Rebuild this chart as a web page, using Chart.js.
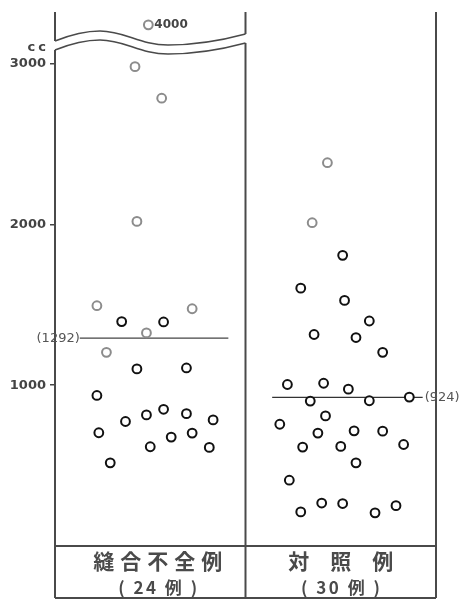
<!DOCTYPE html>
<html>
<head>
<meta charset="utf-8">
<script src="https://cdn.jsdelivr.net/npm/chart.js@4"></script>
<style>
  html, body { margin: 0; padding: 0; background: #fff; }
</style>
</head>
<body>
<canvas id="myChart" width="466" height="600"></canvas>
<script>
// groups and their case counts
const groups = ['縫合不全例', '対　照　例'];
const groupCounts = ['( 24 例 )', '( 30 例 )'];
const yTicks = [1000, 2000, 3000];
const yUnit = 'cc';

// 縫合不全例: values (cc) and spread across the column (0..1)
const leakValues = [4000, 2980, 2784, 2018, 1494, 1475, 1395, 1393, 1325, 1204, 1101, 1107,
  936, 774, 815, 850, 823, 784, 704, 617, 677, 702, 613, 517];
const leakSpread = [0.49, 0.42, 0.56, 0.43, 0.22, 0.72, 0.35, 0.57, 0.48, 0.27, 0.43, 0.69,
  0.22, 0.37, 0.48, 0.57, 0.69, 0.83, 0.23, 0.50, 0.61, 0.72, 0.81, 0.29];
const leakMean = 1292;

// 対照例: values (cc) and spread across the column (1..2)
const controlValues = [2383, 2010, 1807, 1603, 1527, 1399, 1315, 1296, 1204, 1004, 1012, 975,
  901, 903, 926, 809, 757, 702, 716, 714, 615, 619, 631, 517, 409, 212, 267, 264, 206, 251];
const controlSpread = [1.43, 1.35, 1.51, 1.29, 1.52, 1.65, 1.36, 1.58, 1.72, 1.22, 1.41, 1.54,
  1.34, 1.65, 1.86, 1.42, 1.18, 1.38, 1.57, 1.72, 1.30, 1.50, 1.83, 1.58, 1.23, 1.29, 1.40, 1.51, 1.68, 1.79];
const controlMean = 924;

// points that print lighter in the original
const faintLeak = [0, 1, 2, 3, 4, 5, 8, 9];
const faintControl = [0, 1];

const yMax = 3320;
const breakShown = 3240; // values above the cut are drawn here

const ctx = document.getElementById('myChart');

const toPoints = (vals, xs) => vals.map((v, i) => ({ x: xs[i], y: v > yMax ? breakShown : v, real: v }));
const colours = (vals, faint) => vals.map((v, i) => faint.includes(i) ? '#8c8c8c' : '#111');

const framePlugin = {
  id: 'frame',
  beforeDatasetsDraw(chart) {
    const { ctx, chartArea: a, scales: { x, y } } = chart;
    const L = a.left, M = x.getPixelForValue(1), R = a.right, T = a.top;
    const bottom = chart.height - 2;
    ctx.save();
    ctx.strokeStyle = '#4a4a4a';
    ctx.lineWidth = 2;
    ctx.beginPath();
    ctx.moveTo(L, T); ctx.lineTo(L, T + 29);
    ctx.moveTo(L, T + 38); ctx.lineTo(L, bottom);
    ctx.moveTo(M, T); ctx.lineTo(M, T + 22);
    ctx.moveTo(M, T + 31); ctx.lineTo(M, bottom);
    ctx.moveTo(R, T); ctx.lineTo(R, bottom);
    ctx.moveTo(L, a.bottom); ctx.lineTo(R, a.bottom);
    ctx.moveTo(L, bottom); ctx.lineTo(R, bottom);
    ctx.stroke();

    // broken-axis wave
    const wave = (dy) => {
      ctx.beginPath();
      ctx.moveTo(L, T + 29 + dy);
      ctx.bezierCurveTo(L + 15, T + 23 + dy, L + 30, T + 19 + dy, L + 45, T + 19 + dy);
      ctx.bezierCurveTo(L + 70, T + 19 + dy, L + 85, T + 33 + dy, L + 113, T + 33 + dy);
      ctx.bezierCurveTo(L + 145, T + 33 + dy, L + 172, T + 27 + dy, M, T + 22 + dy);
      ctx.stroke();
    };
    ctx.lineWidth = 1.6;
    wave(0);
    wave(9);

    ctx.fillStyle = '#444';
    ctx.textBaseline = 'middle';
    ctx.font = 'bold 13px "DejaVu Sans"';
    ctx.letterSpacing = '3px';
    ctx.textAlign = 'right';
    ctx.fillText(yUnit, 49, 48);
    ctx.letterSpacing = '0px';

    // value above the cut
    ctx.textAlign = 'left';
    ctx.font = 'bold 12px "DejaVu Sans"';
    ctx.fillText(String(leakValues[0]), x.getPixelForValue(leakSpread[0]) + 6, y.getPixelForValue(breakShown));

    // mean labels
    ctx.font = '13px "DejaVu Sans"';
    ctx.fillStyle = '#555';
    ctx.textAlign = 'right';
    ctx.fillText('(' + leakMean + ')', x.getPixelForValue(0.13), y.getPixelForValue(leakMean));
    ctx.textAlign = 'left';
    ctx.fillText('(' + controlMean + ')', x.getPixelForValue(1.93) + 2, y.getPixelForValue(controlMean));

    // group labels
    const centers = [0.54, 1.5];
    ctx.fillStyle = '#4a4a4a';
    ctx.textAlign = 'center';
    groups.forEach((g, i) => {
      const cx = x.getPixelForValue(centers[i]);
      ctx.font = 'bold 21px "Noto Sans CJK JP"';
      ctx.letterSpacing = i === 0 ? '6px' : '0px';
      ctx.fillText(g, cx + (i === 0 ? 3 : 0), 561);
      ctx.font = 'bold 17px "Noto Sans CJK JP"';
      ctx.letterSpacing = '2.5px';
      ctx.fillText(groupCounts[i], cx + 1, 588);
    });
    ctx.restore();
  }
};

new Chart(ctx, {
  type: 'scatter',
  data: {
    datasets: [
      {
        data: toPoints(leakValues, leakSpread),
        borderColor: colours(leakValues, faintLeak),
        backgroundColor: '#fff',
        pointRadius: 4.4,
        borderWidth: 2,
        order: 1
      },
      {
        data: toPoints(controlValues, controlSpread),
        borderColor: colours(controlValues, faintControl),
        backgroundColor: '#fff',
        pointRadius: 4.4,
        borderWidth: 2,
        order: 1
      },
      {
        type: 'line',
        data: [{ x: 0.13, y: leakMean }, { x: 0.91, y: leakMean }],
        borderColor: '#444',
        borderWidth: 1.2,
        pointRadius: 0,
        order: 2
      },
      {
        type: 'line',
        data: [{ x: 1.14, y: controlMean }, { x: 1.93, y: controlMean }],
        borderColor: '#333',
        borderWidth: 1.2,
        pointRadius: 0,
        order: 2
      }
    ]
  },
  options: {
    responsive: false,
    animation: false,
    layout: { padding: { top: 12, right: 30, bottom: 54, left: 0 } },
    plugins: { legend: { display: false }, tooltip: { enabled: false } },
    scales: {
      x: { type: 'linear', display: false, min: 0, max: 2 },
      y: {
        min: 0,
        max: yMax,
        afterBuildTicks: s => { s.ticks = yTicks.map(v => ({ value: v })); },
        afterFit: s => { s.width = 55; },
        grid: { drawOnChartArea: false, drawTicks: true, tickLength: 5, color: '#444', lineWidth: 1.5 },
        border: { display: false },
        ticks: {
          color: '#444',
          padding: 4,
          autoSkip: false,
          font: { family: 'DejaVu Sans', weight: 'bold', size: 13 },
          callback: v => String(v)
        }
      }
    }
  },
  plugins: [framePlugin]
});
</script>
</body>
</html>
